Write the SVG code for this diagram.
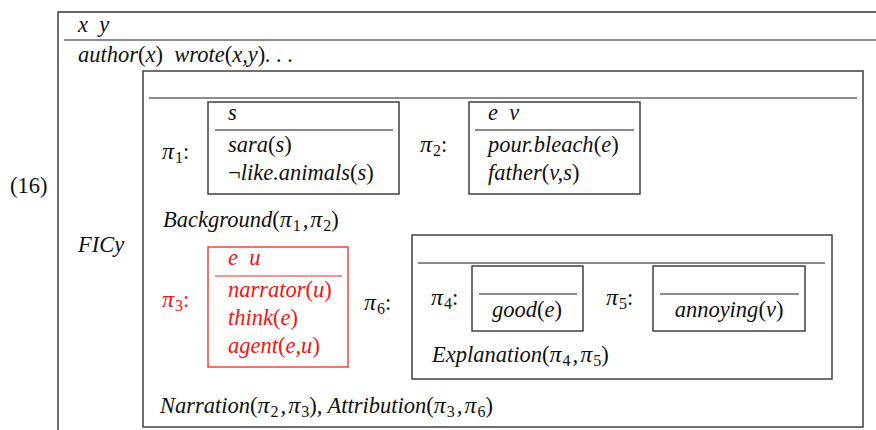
<svg xmlns="http://www.w3.org/2000/svg" width="876" height="430" viewBox="0 0 876 430">
<style>
text{font-family:"Liberation Serif","Times New Roman",serif;font-size:22.5px;font-style:italic;fill:#111;white-space:pre}
.u{font-style:normal}
.p{font-size:24px}
.sub{font-style:normal;font-size:16px}
.red{fill:#ff1010}
.box{fill:none;stroke:#333;stroke-width:1.4}
.sep{stroke:#666;stroke-width:1.4}
.rbox{fill:none;stroke:#ff3030;stroke-width:1.4}
.rsep{stroke:#f07070;stroke-width:1.4}
</style>
<rect width="876" height="430" fill="#fff"/>
<g id="outer">
<path class="box" d="M876 12H58V430"/>
<line class="sep" x1="64" y1="40" x2="876" y2="40"/>
<text x="10" y="193" class="u">(16)</text>
<text x="78" y="32">x  y</text>
<text x="78" y="62">author<tspan class="u">(</tspan>x<tspan class="u">)</tspan>  wrote<tspan class="u">(</tspan>x,y<tspan class="u">)</tspan>. . .</text>
<text x="78" y="252">FICy</text>
</g>
<g id="fic">
<rect class="box" x="143" y="71" width="720" height="356"/>
<line class="sep" x1="149" y1="98" x2="857" y2="98"/>
<text x="160" y="413">Narration<tspan class="u">(</tspan><tspan class="p">π</tspan><tspan class="sub" dx="1" dy="4">2</tspan><tspan dx="2" dy="-4">,</tspan><tspan class="p" dx="2">π</tspan><tspan class="sub" dx="1" dy="4">3</tspan><tspan class="u" dy="-4">)</tspan>, Attribution<tspan class="u">(</tspan><tspan class="p">π</tspan><tspan class="sub" dx="1" dy="4">3</tspan><tspan dx="2" dy="-4">,</tspan><tspan class="p" dx="2">π</tspan><tspan class="sub" dx="1" dy="4">6</tspan><tspan class="u" dy="-4">)</tspan></text>
</g>
<g id="pi1">
<text x="162" y="159"><tspan class="p">π</tspan><tspan class="sub" dx="1" dy="4">1</tspan><tspan class="u" dy="-4">:</tspan></text>
<rect class="box" x="208" y="102" width="191" height="92"/>
<line class="sep" x1="215" y1="130" x2="393" y2="130"/>
<text x="228" y="120">s</text>
<text x="228" y="152">sara<tspan class="u">(</tspan>s<tspan class="u">)</tspan></text>
<text x="228" y="180"><tspan class="u">¬</tspan>like.animals<tspan class="u">(</tspan>s<tspan class="u">)</tspan></text>
</g>
<g id="pi2">
<text x="420" y="152"><tspan class="p">π</tspan><tspan class="sub" dx="1" dy="4">2</tspan><tspan class="u" dy="-4">:</tspan></text>
<rect class="box" x="469" y="102" width="171" height="92"/>
<line class="sep" x1="475" y1="130" x2="634" y2="130"/>
<text x="488" y="120">e  v</text>
<text x="488" y="152">pour.bleach<tspan class="u">(</tspan>e<tspan class="u">)</tspan></text>
<text x="488" y="180">father<tspan class="u">(</tspan>v,s<tspan class="u">)</tspan></text>
</g>
<g id="background">
<text x="163" y="227">Background<tspan class="u">(</tspan><tspan class="p">π</tspan><tspan class="sub" dx="1" dy="4">1</tspan><tspan dx="2" dy="-4">,</tspan><tspan class="p" dx="2">π</tspan><tspan class="sub" dx="1" dy="4">2</tspan><tspan class="u" dy="-4">)</tspan></text>
</g>
<g id="pi3">
<text x="162" y="307" class="red"><tspan class="p red">π</tspan><tspan class="sub red" dx="1" dy="4">3</tspan><tspan class="u red" dy="-4">:</tspan></text>
<rect class="rbox" x="208" y="247" width="140" height="120"/>
<line class="rsep" x1="215" y1="276" x2="342" y2="276"/>
<text x="228" y="265" class="red">e  u</text>
<text x="228" y="297" class="red">narrator<tspan class="u red">(</tspan>u<tspan class="u red">)</tspan></text>
<text x="228" y="325" class="red">think<tspan class="u red">(</tspan>e<tspan class="u red">)</tspan></text>
<text x="228" y="353" class="red">agent<tspan class="u red">(</tspan>e,u<tspan class="u red">)</tspan></text>
</g>
<g id="pi6">
<text x="364" y="310"><tspan class="p">π</tspan><tspan class="sub" dx="1" dy="4">6</tspan><tspan class="u" dy="-4">:</tspan></text>
<rect class="box" x="412" y="235" width="420" height="144"/>
<line class="sep" x1="418" y1="263" x2="825" y2="263"/>
<text x="432" y="362">Explanation<tspan class="u">(</tspan><tspan class="p">π</tspan><tspan class="sub" dx="1" dy="4">4</tspan><tspan dx="2" dy="-4">,</tspan><tspan class="p" dx="2">π</tspan><tspan class="sub" dx="1" dy="4">5</tspan><tspan class="u" dy="-4">)</tspan></text>
</g>
<g id="pi4">
<text x="431" y="305"><tspan class="p">π</tspan><tspan class="sub" dx="1" dy="4">4</tspan><tspan class="u" dy="-4">:</tspan></text>
<rect class="box" x="472" y="266" width="111" height="65"/>
<line class="sep" x1="479" y1="294" x2="577" y2="294"/>
<text x="527" y="317" text-anchor="middle">good<tspan class="u">(</tspan>e<tspan class="u">)</tspan></text>
</g>
<g id="pi5">
<text x="606" y="305"><tspan class="p">π</tspan><tspan class="sub" dx="1" dy="4">5</tspan><tspan class="u" dy="-4">:</tspan></text>
<rect class="box" x="653" y="266" width="152" height="65"/>
<line class="sep" x1="660" y1="294" x2="799" y2="294"/>
<text x="729" y="317" text-anchor="middle">annoying<tspan class="u">(</tspan>v<tspan class="u">)</tspan></text>
</g>
<g id="connectors"/>
</svg>
